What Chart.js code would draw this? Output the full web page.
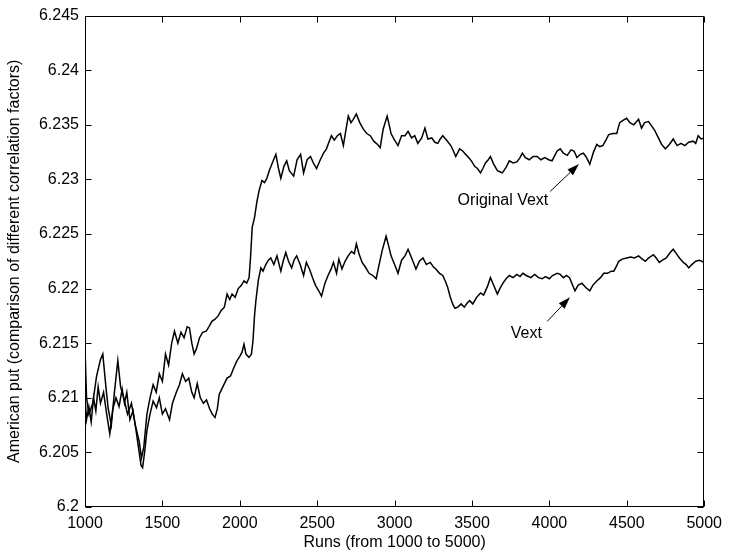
<!DOCTYPE html>
<html>
<head>
<meta charset="utf-8">
<script src="https://cdn.jsdelivr.net/npm/chart.js@4.4.0/dist/chart.umd.min.js"></script>
<style>
  html, body { margin: 0; padding: 0; background: #fff; }
</style>
</head>
<body>
<canvas id="chart" width="729" height="554"></canvas>
<script>
// tick labels
const xTicks = [1000, 1500, 2000, 2500, 3000, 3500, 4000, 4500, 5000];
const yTicks = [6.2, 6.205, 6.21, 6.215, 6.22, 6.225, 6.23, 6.235, 6.24, 6.245];

// Original Vext (upper curve after ~1500 runs)
const origRuns = [
  1000, 1010, 1025, 1050, 1075, 1100, 1115, 1135, 1150, 1170,
  1190, 1212, 1230, 1250, 1275, 1300, 1325, 1350, 1365, 1380,
  1400, 1420, 1440, 1460, 1480, 1500, 1520, 1540, 1560, 1578,
  1600, 1620, 1640, 1660, 1675, 1690, 1705, 1720, 1740, 1760,
  1783, 1800, 1820, 1840, 1860, 1880, 1900, 1918, 1935, 1950,
  1970, 1990, 2010, 2027, 2045, 2060, 2070, 2080, 2095, 2111,
  2125, 2143, 2160, 2175, 2190, 2210, 2233, 2250, 2265, 2285,
  2303, 2320, 2348, 2370, 2393, 2412, 2435, 2457, 2475, 2496,
  2520, 2541, 2560, 2573, 2592, 2610, 2630, 2650, 2669, 2685,
  2701, 2718, 2733, 2753, 2775, 2798, 2820, 2843, 2865, 2890,
  2907, 2926, 2952, 2965, 2977, 3000, 3022, 3045, 3067, 3087,
  3110, 3130, 3150, 3175, 3196, 3215, 3240, 3260, 3279, 3295,
  3311, 3335, 3363, 3380, 3395, 3420, 3440, 3465, 3485, 3500,
  3517, 3535, 3555, 3570, 3587, 3605, 3619, 3640, 3664, 3680,
  3696, 3720, 3741, 3765, 3790, 3810, 3825, 3845, 3870, 3895,
  3921, 3945, 3970, 3995, 4017, 4035, 4050, 4070, 4090, 4115,
  4140, 4159, 4178, 4200, 4220, 4240, 4261, 4285, 4306, 4325,
  4345, 4365, 4383, 4410, 4435, 4454, 4475, 4499, 4520, 4545,
  4576, 4595, 4615, 4640, 4660, 4680, 4704, 4725, 4749, 4775,
  4800, 4825, 4850, 4875, 4900, 4929, 4945, 4961, 4980, 5000
];
const origVext = [
  6.2145, 6.2100, 6.2085, 6.2095, 6.2120, 6.2135, 6.2140, 6.2110, 6.2090, 6.2075,
  6.2105, 6.2134, 6.2110, 6.2100, 6.2085, 6.2095, 6.2075, 6.2060, 6.2045, 6.2055,
  6.2085, 6.2100, 6.2112, 6.2105, 6.2122, 6.2115, 6.2140, 6.2130, 6.2150, 6.2161,
  6.2150, 6.2160, 6.2155, 6.2165, 6.2164, 6.2150, 6.2140, 6.2145, 6.2155, 6.2160,
  6.2161, 6.2165, 6.2170, 6.2172, 6.2175, 6.2180, 6.2183, 6.2195, 6.2190, 6.2195,
  6.2192, 6.2200, 6.2203, 6.2207, 6.2205, 6.2210, 6.2230, 6.2256, 6.2265, 6.2280,
  6.2290, 6.2299, 6.2297, 6.2301, 6.2308, 6.2315, 6.2323, 6.2310, 6.2301, 6.2312,
  6.2317, 6.2308, 6.2303, 6.2318, 6.2323, 6.2306, 6.2318, 6.2321, 6.2315, 6.2310,
  6.2318, 6.2324, 6.2328, 6.2333, 6.2340, 6.2336, 6.2340, 6.2342, 6.2331, 6.2345,
  6.2358, 6.2352, 6.2355, 6.2360, 6.2352, 6.2346, 6.2342, 6.2340, 6.2335, 6.2332,
  6.2329, 6.2346, 6.2358, 6.2350, 6.2342, 6.2336, 6.2331, 6.2340, 6.2340, 6.2344,
  6.2338, 6.2340, 6.2333, 6.2338, 6.2347, 6.2337, 6.2338, 6.2334, 6.2333, 6.2337,
  6.2340, 6.2336, 6.2331, 6.2326, 6.2321, 6.2328, 6.2326, 6.2322, 6.2319, 6.2316,
  6.2312, 6.2310, 6.2306, 6.2310, 6.2315, 6.2318, 6.2321, 6.2314, 6.2308, 6.2307,
  6.2306, 6.2311, 6.2317, 6.2315, 6.2316, 6.2320, 6.2324, 6.2320, 6.2318, 6.2321,
  6.2321, 6.2318, 6.2320, 6.2318, 6.2317, 6.2322, 6.2326, 6.2328, 6.2324, 6.2322,
  6.2327, 6.2326, 6.2320, 6.2323, 6.2324, 6.2320, 6.2314, 6.2325, 6.2332, 6.2330,
  6.2331, 6.2336, 6.2341, 6.2342, 6.2342, 6.2352, 6.2354, 6.2356, 6.2352, 6.2350,
  6.2355, 6.2347, 6.2352, 6.2353, 6.2349, 6.2345, 6.2338, 6.2332, 6.2328, 6.2332,
  6.2337, 6.2331, 6.2333, 6.2331, 6.2334, 6.2335, 6.2333, 6.2340, 6.2337, 6.2338
];

// Vext (lower curve)
const vextRuns = [
  1000, 1010, 1025, 1040, 1055, 1070, 1085, 1100, 1120, 1140,
  1160, 1180, 1200, 1220, 1240, 1255, 1270, 1290, 1310, 1330,
  1350, 1362, 1372, 1385, 1400, 1420, 1440, 1462, 1480, 1500,
  1520, 1546, 1565, 1590, 1610, 1629, 1650, 1670, 1690, 1705,
  1725, 1745, 1765, 1785, 1805, 1822, 1840, 1855, 1867, 1890,
  1918, 1940, 1960, 1982, 2000, 2015, 2027, 2040, 2059, 2075,
  2085, 2095, 2104, 2120, 2136, 2150, 2168, 2185, 2200, 2220,
  2240, 2265, 2280, 2297, 2315, 2335, 2350, 2367, 2390, 2412,
  2430, 2450, 2470, 2489, 2510, 2528, 2550, 2570, 2590, 2605,
  2625, 2640, 2660, 2680, 2700, 2721, 2740, 2753, 2770, 2790,
  2810, 2835, 2860, 2881, 2900, 2920, 2945, 2960, 2977, 3000,
  3022, 3045, 3067, 3087, 3110, 3138, 3160, 3183, 3205, 3230,
  3250, 3266, 3290, 3311, 3330, 3343, 3360, 3375, 3390, 3408,
  3430, 3450, 3470, 3485, 3505, 3530, 3555, 3575, 3600, 3619,
  3640, 3664, 3680, 3700, 3720, 3741, 3765, 3790, 3810, 3829,
  3850, 3880, 3905, 3930, 3953, 3975, 4000, 4020, 4050, 4070,
  4090, 4110, 4130, 4150, 4165, 4185, 4210, 4235, 4261, 4280,
  4306, 4330, 4351, 4375, 4400, 4416, 4435, 4448, 4470, 4499,
  4525, 4550, 4576, 4600, 4620, 4640, 4672, 4690, 4710, 4730,
  4755, 4780, 4800, 4820, 4840, 4865, 4884, 4900, 4920, 4945,
  4970, 5000
];
const vextValues = [
  6.2100, 6.2080, 6.2092, 6.2078, 6.2100, 6.2088, 6.2110, 6.2095, 6.2105, 6.2085,
  6.2067, 6.2090, 6.2100, 6.2092, 6.2108, 6.2095, 6.2105, 6.2080, 6.2088, 6.2070,
  6.2050, 6.2038, 6.2036, 6.2050, 6.2070, 6.2085, 6.2097, 6.2091, 6.2100, 6.2085,
  6.2090, 6.2080, 6.2095, 6.2105, 6.2112, 6.2122, 6.2115, 6.2118, 6.2105, 6.2100,
  6.2113, 6.2100, 6.2095, 6.2098, 6.2090, 6.2085, 6.2082, 6.2090, 6.2103, 6.2110,
  6.2118, 6.2120, 6.2127, 6.2134, 6.2138, 6.2142, 6.2149, 6.2140, 6.2137, 6.2140,
  6.2152, 6.2175, 6.2189, 6.2208, 6.2219, 6.2216, 6.2222, 6.2226, 6.2228, 6.2222,
  6.2230, 6.2216, 6.2225, 6.2233, 6.2225, 6.2219, 6.2226, 6.2230, 6.2222, 6.2212,
  6.2224, 6.2218, 6.2210, 6.2203, 6.2198, 6.2193, 6.2205, 6.2212, 6.2218, 6.2224,
  6.2214, 6.2227, 6.2218, 6.2225, 6.2230, 6.2234, 6.2232, 6.2241, 6.2232, 6.2224,
  6.2220, 6.2214, 6.2212, 6.2209, 6.2222, 6.2235, 6.2248, 6.2240, 6.2230, 6.2222,
  6.2214, 6.2226, 6.2230, 6.2236, 6.2228, 6.2218, 6.2225, 6.2228, 6.2222, 6.2224,
  6.2220, 6.2218, 6.2214, 6.2212, 6.2206, 6.2201, 6.2192, 6.2186, 6.2182, 6.2183,
  6.2186, 6.2183, 6.2187, 6.2189, 6.2186, 6.2192, 6.2196, 6.2194, 6.2202, 6.2210,
  6.2203, 6.2195, 6.2200, 6.2205, 6.2209, 6.2212, 6.2210, 6.2213, 6.2211, 6.2214,
  6.2212, 6.2210, 6.2213, 6.2210, 6.2209, 6.2211, 6.2209, 6.2212, 6.2214, 6.2213,
  6.2210, 6.2212, 6.2210, 6.2203, 6.2198, 6.2203, 6.2205, 6.2201, 6.2198, 6.2203,
  6.2207, 6.2210, 6.2214, 6.2214, 6.2216, 6.2216, 6.2221, 6.2225, 6.2227, 6.2228,
  6.2229, 6.2228, 6.2230, 6.2227, 6.2225, 6.2228, 6.2231, 6.2228, 6.2224, 6.2226,
  6.2228, 6.2233, 6.2236, 6.2232, 6.2228, 6.2224, 6.2222, 6.2219, 6.2222, 6.2225,
  6.2226, 6.2224
];

const FONT = { family: '"Liberation Sans", Arial, Helvetica, sans-serif', size: 16 };

function toPoints(runs, vals) {
  return runs.map((r, i) => ({ x: r, y: vals[i] }));
}

// box, inward ticks and the two arrow annotations (MATLAB look)
const matlabFrame = {
  id: 'matlabFrame',
  afterDraw(chart) {
    const { ctx, chartArea: a, scales: { x, y } } = chart;
    const L = Math.round(a.left) + 0.5, R = Math.round(a.right) - 0.5;
    const T = Math.round(a.top) + 0.5, B = Math.round(a.bottom) - 0.5;
    ctx.save();
    ctx.strokeStyle = '#000';
    ctx.lineWidth = 1;
    ctx.strokeRect(L, T, R - L, B - T);
    ctx.beginPath();
    yTicks.forEach(v => {
      const py = Math.round(y.getPixelForValue(v)) + 0.5;
      ctx.moveTo(L, py); ctx.lineTo(L + 6, py);
      ctx.moveTo(R, py); ctx.lineTo(R - 6, py);
    });
    xTicks.forEach(v => {
      const px = Math.round(x.getPixelForValue(v)) + 0.5;
      ctx.moveTo(px, B); ctx.lineTo(px, B - 6);
      ctx.moveTo(px, T); ctx.lineTo(px, T + 6);
    });
    ctx.stroke();

    function arrow(r0, v0, r1, v1) {
      const x0 = x.getPixelForValue(r0), y0 = y.getPixelForValue(v0);
      const x1 = x.getPixelForValue(r1), y1 = y.getPixelForValue(v1);
      const ang = Math.atan2(y1 - y0, x1 - x0);
      const hl = 12, hw = 4;
      const bx = x1 - hl * Math.cos(ang), by = y1 - hl * Math.sin(ang);
      ctx.beginPath();
      ctx.moveTo(x0, y0); ctx.lineTo(bx, by);
      ctx.stroke();
      ctx.beginPath();
      ctx.moveTo(x1, y1);
      ctx.lineTo(bx + hw * Math.sin(ang), by - hw * Math.cos(ang));
      ctx.lineTo(bx - hw * Math.sin(ang), by + hw * Math.cos(ang));
      ctx.closePath();
      ctx.fill();
    }

    ctx.fillStyle = '#000';
    ctx.font = FONT.size + 'px ' + FONT.family;
    ctx.textAlign = 'center';
    ctx.textBaseline = 'middle';
    ctx.fillText('Original Vext', x.getPixelForValue(3700), y.getPixelForValue(6.2281));
    ctx.fillText('Vext', x.getPixelForValue(3851), y.getPixelForValue(6.2159));
    arrow(4005, 6.2289, 4191, 6.2314);
    arrow(3986, 6.2170, 4133, 6.2192);
    ctx.restore();
  }
};

new Chart(document.getElementById('chart'), {
  type: 'scatter',
  data: {
    datasets: [
      {
        label: 'Original Vext',
        data: toPoints(origRuns, origVext),
        showLine: true,
        borderColor: '#000',
        borderWidth: 1.5,
        pointRadius: 0,
        tension: 0
      },
      {
        label: 'Vext',
        data: toPoints(vextRuns, vextValues),
        showLine: true,
        borderColor: '#000',
        borderWidth: 1.5,
        pointRadius: 0,
        tension: 0
      }
    ]
  },
  options: {
    responsive: false,
    animation: false,
    devicePixelRatio: 1,
    layout: { padding: { left: 0, right: 21, top: 14, bottom: 0 } },
    plugins: {
      legend: { display: false },
      tooltip: { enabled: false }
    },
    scales: {
      x: {
        type: 'linear',
        min: 1000,
        max: 5000,
        afterBuildTicks: s => { s.ticks = xTicks.map(v => ({ value: v })); },
        afterFit: s => { s.height = 47; },
        grid: { display: false, drawTicks: false },
        border: { display: false },
        ticks: { font: FONT, color: '#000', padding: 7, maxRotation: 0, autoSkip: false, callback: v => String(v) },
        title: { display: true, text: 'Runs (from 1000 to 5000)', font: FONT, color: '#000', padding: { top: 0, bottom: 2 } }
      },
      y: {
        type: 'linear',
        min: 6.2,
        max: 6.245,
        afterBuildTicks: s => { s.ticks = yTicks.map(v => ({ value: v })); },
        afterFit: s => { s.width = 85; },
        grid: { display: false, drawTicks: false },
        border: { display: false },
        ticks: { font: FONT, color: '#000', padding: 6, autoSkip: false, callback: v => String(Number(v.toFixed(3))) },
        title: { display: true, text: 'American put (comparison of different correlation factors)', font: FONT, color: '#000', padding: { top: 5, bottom: 0 } }
      }
    }
  },
  plugins: [matlabFrame]
});
</script>
</body>
</html>
